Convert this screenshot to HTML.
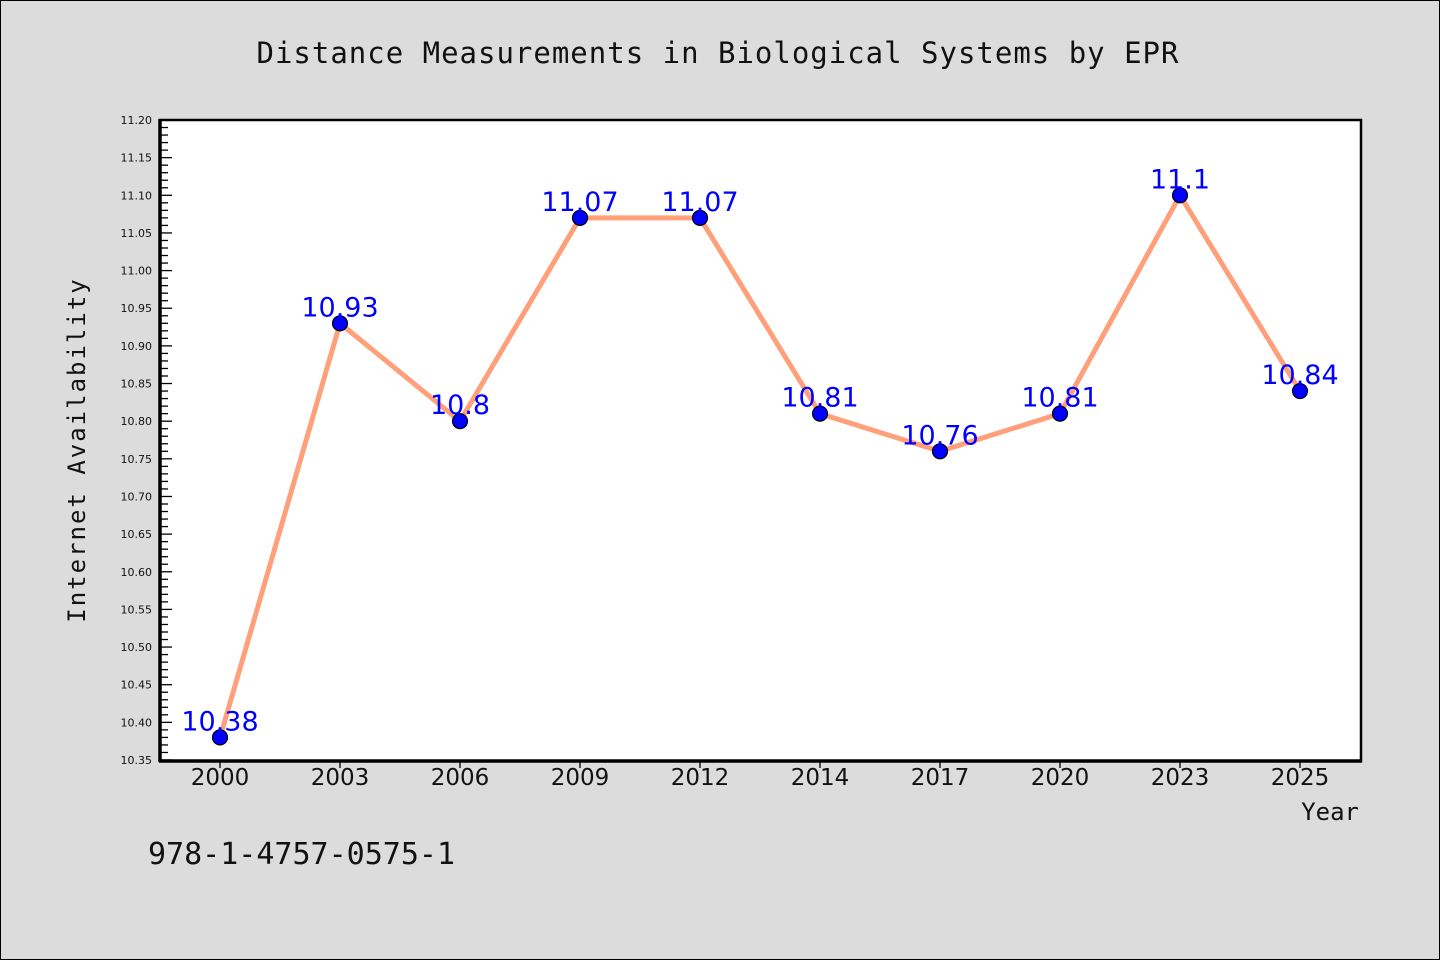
<!DOCTYPE html>
<html><head><meta charset="utf-8"><style>
body{margin:0;background:#dcdcdc;}
svg{display:block;font-family:"DejaVu Sans Mono","Liberation Mono",monospace;}
</style></head><body>
<svg width="1440" height="960" viewBox="0 0 1440 960" xmlns="http://www.w3.org/2000/svg">
<rect x="0.5" y="0.5" width="1439" height="959" fill="#dcdcdc" stroke="#000" stroke-width="1"/>
<text x="718" y="63" font-size="29" text-anchor="middle" fill="#111" letter-spacing="1">Distance Measurements in Biological Systems by EPR</text>
<rect x="160" y="120" width="1201" height="641" fill="#fff" stroke="#000" stroke-width="2.5"/>
<g id="yaxis"></g>
<g id="xaxis"></g>
<g id="series"></g>
<line x1="160" y1="119" x2="160" y2="762" stroke="#000" stroke-width="3.5"/>
<line x1="159" y1="761" x2="1362" y2="761" stroke="#000" stroke-width="3.5"/>
<text transform="translate(85,450) rotate(-90)" font-size="24" text-anchor="middle" fill="#111" letter-spacing="2">Internet Availability</text>
<text x="1359" y="820" font-size="24" text-anchor="end" fill="#111">Year</text>
<text x="148" y="864" font-size="30" fill="#111">978-1-4757-0575-1</text>
</svg>
<script>
const categories=["2000","2003","2006","2009","2012","2014","2017","2020","2023","2025"];
const values=[10.38,10.93,10.8,11.07,11.07,10.81,10.76,10.81,11.1,10.84];
const valueLabels=["10.38","10.93","10.8","11.07","11.07","10.81","10.76","10.81","11.1","10.84"];
const yTicks=["10.35","10.40","10.45","10.50","10.55","10.60","10.65","10.70","10.75","10.80","10.85","10.90","10.95","11.00","11.05","11.10","11.15","11.20"];
(function(){
const NS="http://www.w3.org/2000/svg";
const yMin=10.35,yMax=11.20,pTop=120,pBot=760,pLeft=160,pRight=1360;
const y=v=>pBot-(v-yMin)/(yMax-yMin)*(pBot-pTop);
const x=i=>pLeft+(pRight-pLeft)/categories.length*(i+0.5);
function mk(t,a,p){const e=document.createElementNS(NS,t);for(const k in a)e.setAttribute(k,a[k]);p.appendChild(e);return e;}
const ya=document.getElementById('yaxis');
for(let k=0;k<=85;k++){const v=yMin+k*0.01;const major=k%5===0;
 const l=mk('line',{x1:pLeft,x2:pLeft+(major?12:8),y1:y(v),y2:y(v),stroke:'#000','stroke-width':1.3},ya);
 
 }
yTicks.forEach(t=>{const e=mk('text',{x:152,y:y(parseFloat(t))+4,'font-size':11,'text-anchor':'end',fill:'#111','font-family':'DejaVu Sans, sans-serif'},ya);e.textContent=t;
 
 });
const xa=document.getElementById('xaxis');
categories.forEach((c,i)=>{const l=mk('line',{x1:x(i),x2:x(i),y1:pBot,y2:pBot+8,stroke:'#000','stroke-width':1.3},xa);
 
 
 const t=mk('text',{x:x(i),y:pBot+25,'font-size':23,'text-anchor':'middle',fill:'#111','font-family':'DejaVu Sans, sans-serif'},xa);t.textContent=c;
 
 });
const s=document.getElementById('series');
const pl=mk('polyline',{points:values.map((v,i)=>x(i)+','+y(v)).join(' '),fill:'none',stroke:'#ffa07a','stroke-width':5,'stroke-linejoin':'round'},s);


values.forEach((v,i)=>{const c=mk('circle',{cx:x(i),cy:y(v),r:7.5,fill:'#0000ff',stroke:'#000','stroke-width':1.2},s);
 
 
 const t=mk('text',{x:x(i),y:y(v)-7,'font-size':27,'text-anchor':'middle',fill:'#0000ff','font-family':'DejaVu Sans, sans-serif'},s);t.textContent=valueLabels[i];
 
 });
})();
</script>
</body></html>
